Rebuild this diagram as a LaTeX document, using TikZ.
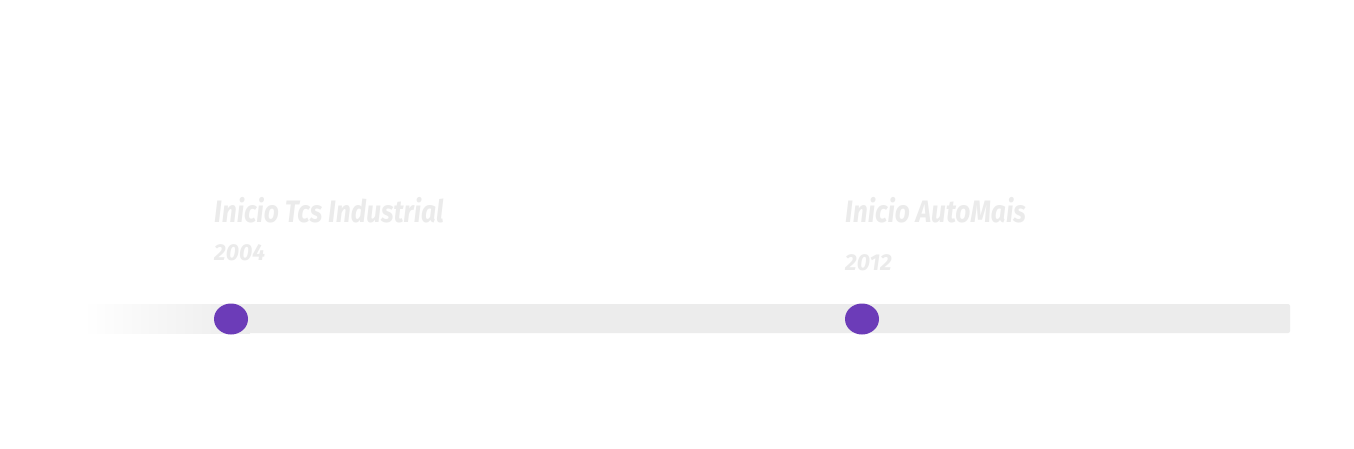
\documentclass[tikz,border=0pt]{standalone}
\usepackage{fontspec}
\usetikzlibrary{shapes.geometric}
\setmainfont{Fira Sans}
\newfontfamily\labelfont[FakeStretch=0.85]{Fira Sans}
\newfontfamily\yearfont{Fira Sans}
\definecolor{barcol}{HTML}{ECECEC}
\definecolor{dotcol}{HTML}{6C3CB8}
\definecolor{txtcol}{HTML}{EBEBEB}
\begin{document}
\begin{tikzpicture}[x=1pt,y=-1pt,
  title/.style={anchor=base west,inner sep=0pt,text=txtcol,font=\labelfont\bfseries\itshape\fontsize{31}{31}\selectfont},
  year/.style={anchor=base west,inner sep=0pt,text=txtcol,font=\yearfont\bfseries\itshape\fontsize{23}{23}\selectfont},
  dot/.style={ellipse,fill=dotcol,minimum width=34pt,minimum height=31pt,inner sep=0pt}]
\useasboundingbox[fill=white] (0,0) rectangle (1354,448);
\shade[left color=white,right color=barcol,shading angle=90] (83,304) rectangle (250,333);
\fill[barcol,rounded corners=2pt] (249,304) -- (1290,304) -- (1290,333) -- (249,333) -- cycle;
\node[dot] (d1) at (231,319) {};
\node[dot] (d2) at (862,319) {};
\node[title] (t1) at (214,222.5) {Inicio Tcs Industrial};
\node[year] (y1) at (214,260) {2004};
\node[title] (t2) at (845,222.5) {Inicio AutoMais};
\node[year] (y2) at (845,270) {2012};
\end{tikzpicture}
\end{document}
